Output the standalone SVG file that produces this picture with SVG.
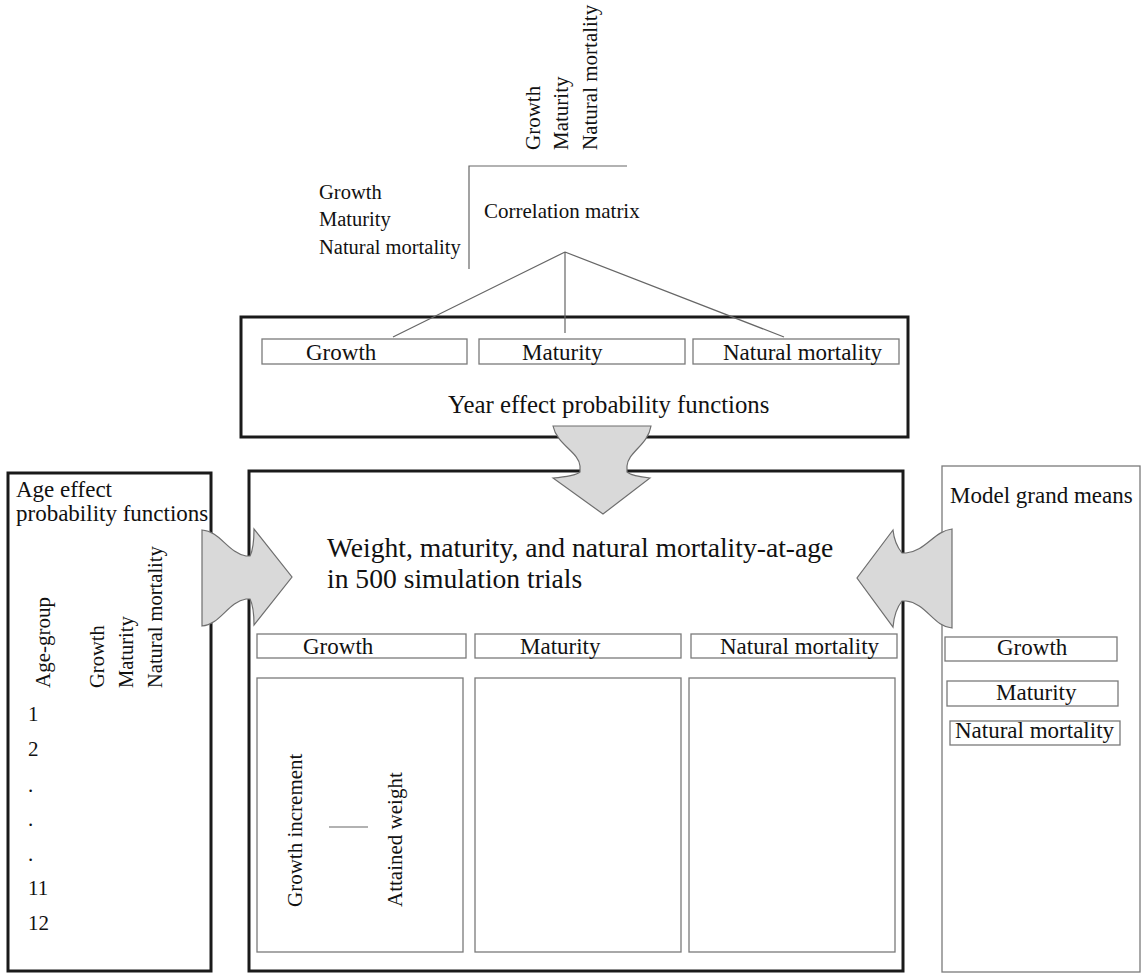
<svg xmlns="http://www.w3.org/2000/svg" width="1143" height="975" viewBox="0 0 1143 975" font-family="'Liberation Serif', 'DejaVu Serif', serif">
<style>
text{font-family:'Liberation Serif','DejaVu Serif',serif;fill:#111}
.thick{fill:#fff;stroke:#1a1a1a;stroke-width:3}
.thin{fill:#fff;stroke:#7a7a7a;stroke-width:1.3}
.line{fill:none;stroke:#666;stroke-width:1.2}
.arrow{fill:#d9d9d9;stroke:#6e6e6e;stroke-width:1.2}
.f20{font-size:20.5px}.f21{font-size:21px}.f23{font-size:23px}
</style>
<rect width="1143" height="975" fill="#fff"/>

<g id="correlation-matrix">
<text class="f21" transform="translate(540,150) rotate(-90)">Growth</text>
<text class="f21" transform="translate(568,150) rotate(-90)">Maturity</text>
<text class="f21" transform="translate(597,150) rotate(-90)">Natural mortality</text>
<path class="line" d="M469,269 V166 H627"/>
<text class="f20" x="319" y="199">Growth</text>
<text class="f20" x="319" y="226">Maturity</text>
<text class="f20" x="319" y="254">Natural mortality</text>
<text class="f21" x="484" y="218">Correlation matrix</text>
</g>

<g id="year-effect">
<rect class="thick" x="241" y="317" width="667" height="120"/>
<rect class="thin" x="262" y="339" width="205" height="25"/>
<rect class="thin" x="479" y="339" width="206" height="25"/>
<rect class="thin" x="693" y="339" width="206" height="25"/>
<text class="f23" x="306" y="360">Growth</text>
<text class="f23" x="522" y="360">Maturity</text>
<text class="f23" x="723" y="360">Natural mortality</text>
<text x="448" y="413" font-size="24.8">Year effect probability functions</text>
</g>

<g id="age-effect">
<rect class="thick" x="8" y="473" width="203" height="498"/>
<text class="f23" x="16" y="497">Age effect</text>
<text class="f23" x="16" y="521">probability functions</text>
<text class="f21" transform="translate(50,688) rotate(-90)">Age-group</text>
<text class="f20" transform="translate(104,688) rotate(-90)">Growth</text>
<text class="f20" transform="translate(133,688) rotate(-90)">Maturity</text>
<text class="f20" transform="translate(162,688) rotate(-90)">Natural mortality</text>
<text class="f21" x="28" y="721">1</text>
<text class="f21" x="28" y="756">2</text>
<text class="f21" x="28" y="792">.</text>
<text class="f21" x="28" y="826">.</text>
<text class="f21" x="28" y="861">.</text>
<text class="f21" x="28" y="895">11</text>
<text class="f21" x="28" y="930">12</text>
</g>

<g id="simulation">
<rect class="thick" x="249" y="471" width="654" height="500"/>
<text x="327" y="557" font-size="27.6">Weight, maturity, and natural mortality-at-age</text>
<text x="327" y="588" font-size="27.6">in 500 simulation trials</text>
<rect class="thin" x="257" y="634" width="209" height="24"/>
<rect class="thin" x="475" y="634" width="206" height="24"/>
<rect class="thin" x="691" y="634" width="206" height="24"/>
<text class="f23" x="303" y="654">Growth</text>
<text class="f23" x="520" y="654">Maturity</text>
<text class="f23" x="720" y="654">Natural mortality</text>
<rect class="thin" x="257" y="678" width="206" height="274"/>
<rect class="thin" x="475" y="678" width="206" height="274"/>
<rect class="thin" x="689" y="678" width="206" height="274"/>
<text class="f21" transform="translate(302,907) rotate(-90)">Growth increment</text>
<text class="f21" transform="translate(402,907) rotate(-90)">Attained weight</text>
<path class="line" d="M329,827 H368"/>
</g>

<g id="grand-means">
<rect class="thin" x="942" y="466" width="198" height="506"/>
<text class="f23" x="950" y="503">Model grand means</text>
<rect class="thin" x="945" y="637" width="172" height="24"/>
<rect class="thin" x="947" y="681" width="171" height="25"/>
<rect class="thin" x="950" y="721" width="170" height="24"/>
<text class="f23" x="997" y="655">Growth</text>
<text class="f23" x="996" y="700">Maturity</text>
<text class="f23" x="955" y="738">Natural mortality</text>
</g>

<g id="connectors">
<path class="line" d="M565,252 L393,337 M565,252 V333 M565,252 L784,337"/>
<path class="arrow" d="M553,426 H651 C648,445 628,452 627,466 L627,472 C632,476 640,477 650,478 L603,514 L553,478 C565,477 575,476 580,472 L580,466 C579,452 557,445 553,426 Z"/>
<path class="arrow" d="M202,530 C220,531 228,553 246,556 L250,556 C253,550 254,540 254,529 L292,577 L254,625 C254,613 253,605 250,599 L246,599 C228,602 220,625 202,626 Z"/>
<path class="arrow" d="M952,529 C934,531 926,551 906,553 L902,553 C898,548 894,540 893,530 L857,578 L893,627 C894,615 898,606 902,601 L906,601 C926,603 934,627 952,628 Z"/>
</g>
</svg>
